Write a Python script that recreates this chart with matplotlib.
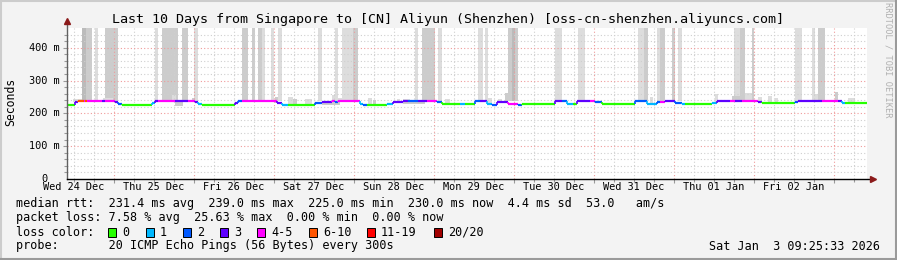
import matplotlib
matplotlib.use('Agg')
import matplotlib.pyplot as plt
from matplotlib.patches import Rectangle
from matplotlib.lines import Line2D

W, H = 897, 260
MONO = 'DejaVu Sans Mono'

# time axis: hours since Wed 24 Dec 00:00
view_start = 9.9
view_end = 249.9
day_labels = ['Wed 24 Dec', 'Thu 25 Dec', 'Fri 26 Dec', 'Sat 27 Dec', 'Sun 28 Dec',
              'Mon 29 Dec', 'Tue 30 Dec', 'Wed 31 Dec', 'Thu 01 Jan', 'Fri 02 Jan']

# median rtt: segment start (h), value (ms), lost pings out of 20
med_start = [9.9, 12.3, 13.2, 15.0, 15.3, 15.9, 20.4, 21.3, 22.8, 23.4, 24.3, 25.2, 26.4,
             35.4, 36.3, 37.2, 42.3, 46.2, 48.3, 49.2, 50.4, 60.3, 61.2, 62.4, 72.9, 74.4,
             76.2, 84.3, 86.4, 89.4, 90.3, 91.2, 97.8, 98.7, 99.9, 105.9, 107.7, 110.7,
             112.2, 115.2, 117.9, 120.9, 122.4, 127.8, 129.3, 132.3, 133.8, 135.9, 137.4,
             138.9, 142.2, 145.2, 146.4, 156.3, 158.4, 159.9, 161.7, 162.9, 164.7, 166.8,
             168.3, 170.4, 180.3, 183.9, 186.9, 187.8, 189.3, 192.3, 194.4, 195.3, 203.4,
             204.9, 208.8, 210.3, 212.4, 217.2, 218.4, 228.3, 229.2, 236.4, 241.2, 242.4,
             243.3]
med_value = [226, 234, 237, 237, 237, 237, 237, 237, 239, 237, 234, 228, 226,
             231, 239, 237, 237, 237, 234, 228, 226, 231, 237, 237, 231, 226,
             226, 231, 234, 237, 234, 237, 228, 225, 226, 228, 234, 237,
             237, 237, 239, 234, 228, 228, 228, 237, 237, 228, 226,
             234, 228, 226, 228, 237, 237, 228, 228, 237, 239, 239,
             234, 228, 237, 228, 234, 234, 237, 231, 228, 228, 231,
             237, 237, 237, 239, 234, 231, 234, 239, 239, 237, 231,
             231]
med_loss = [0, 3, 6, 4, 6, 4, 3, 4, 4, 4, 3, 2, 0,
            1, 3, 4, 3, 4, 3, 1, 0, 3, 2, 4, 3, 1,
            0, 2, 3, 4, 2, 4, 1, 2, 0, 1, 3, 3,
            2, 3, 4, 2, 0, 1, 0, 2, 3, 1, 2,
            3, 4, 2, 0, 3, 2, 1, 0, 3, 3, 4,
            2, 0, 2, 1, 2, 4, 3, 2, 1, 0, 1,
            3, 4, 3, 4, 3, 0, 2, 3, 4, 3, 1,
            0]

# smoke (rtt spread): start (h), end (h), low (ms), high (ms), density 1..3
smoke_start = [14.4, 15.6, 18.3, 21.3, 36.3, 38.4, 44.4, 48.0, 62.4, 65.4, 67.2, 68.4,
               71.1, 73.2, 85.2, 90.3, 92.4, 95.7, 114.3, 116.4, 121.2, 133.2, 135.3,
               142.2, 143.4, 144.3, 156.3, 163.2, 181.2, 183.0, 186.9, 187.8, 191.4,
               193.2, 210.0, 211.8, 215.4, 228.3, 233.4, 235.2,
               11.7, 20.7, 41.4, 47.4, 72.3, 76.2, 77.7, 81.3, 89.4, 91.2, 100.2, 101.7,
               108.9, 110.7, 123.3, 136.2, 139.2, 141.3, 184.8, 204.3, 209.4, 213.3,
               217.2, 220.2, 222.3, 233.4, 240.3, 244.2, 42.3, 86.4, 110.7]
smoke_end = [15.6, 17.4, 19.2, 25.2, 37.2, 43.2, 46.2, 49.2, 64.2, 66.3, 68.4, 69.3,
             72.0, 74.4, 86.4, 91.2, 95.7, 97.2, 115.2, 120.3, 122.4, 134.7, 136.2,
             143.4, 144.3, 145.2, 158.4, 165.3, 183.0, 184.2, 187.8, 189.3, 192.3,
             194.4, 211.8, 213.3, 216.0, 230.4, 234.3, 237.3,
             14.4, 23.7, 42.6, 48.3, 73.2, 77.7, 78.9, 83.4, 90.3, 92.4, 101.4, 102.6,
             109.8, 112.8, 124.8, 137.4, 140.4, 142.2, 185.7, 205.2, 212.4, 215.4,
             218.4, 221.4, 223.2, 235.2, 241.2, 246.3, 44.7, 91.8, 117.3]
smoke_low = [238] * 40 + [236, 237, 237, 234, 231, 226, 226, 226, 234, 237, 226, 226,
                          234, 234, 228, 228, 234, 234, 228, 231, 237, 239,
                          234, 231, 231, 239, 237, 231, 222, 224, 227]
smoke_high = [520] * 40 + [243, 246, 255, 246, 249, 249, 243, 243, 255, 246, 246, 240,
                           243, 243, 243, 246, 243, 261, 249, 258, 252, 261,
                           249, 252, 246, 258, 264, 246, 237, 234, 237]
smoke_level = [3, 2, 1, 2, 1, 2, 2, 1, 2, 2, 2, 1,
               1, 1, 1, 1, 1, 2, 1, 2, 1, 1, 1,
               2, 3, 2, 1, 1, 1, 2, 1, 2, 2,
               1, 1, 2, 2, 1, 1, 2,
               1, 1, 1, 2, 2, 1, 2, 1, 1, 1, 1, 2,
               1, 1, 1, 1, 1, 2, 1, 1, 2, 1,
               1, 1, 1, 1, 2, 1, 2, 2, 2]

loss_labels = ['0', '1', '2', '3', '4-5', '6-10', '11-19', '20/20']
loss_upper = [0, 1, 2, 3, 5, 10, 19, 20]
loss_colors = ['#26ff00', '#00b8ff', '#0059ff', '#5e00ff', '#ff00ff', '#ff5500',
               '#ff0000', '#a10000']
smoke_colors = {1: '#dddddd', 2: '#cccccc', 3: '#bbbbbb'}

stats_rtt = 'median rtt:  231.4 ms avg  239.0 ms max  225.0 ms min  230.0 ms now  4.4 ms sd  53.0   am/s'
stats_loss = 'packet loss: 7.58 % avg  25.63 % max  0.00 % min  0.00 % now'
probe_text = 'probe:       20 ICMP Echo Pings (56 Bytes) every 300s'
stamp = 'Sat Jan  3 09:25:33 2026'
title = 'Last 10 Days from Singapore to [CN] Aliyun (Shenzhen) [oss-cn-shenzhen.aliyuncs.com]'


def fx(x):
    return x / W


def fy(y):
    return 1 - y / H


def loss_color(n):
    for up, c in zip(loss_upper, loss_colors):
        if n <= up:
            return c
    return loss_colors[-1]


fig = plt.figure(figsize=(W / 100, H / 100), dpi=100, facecolor='#f3f3f3')
ax = fig.add_axes([fx(67), fy(179), 800 / W, 151 / H])
ax.set_facecolor('white')
ax.set_xlim(view_start, view_end)
ax.set_ylim(0, 460)

# smoke
for s, e, lo, hi, lv in zip(smoke_start, smoke_end, smoke_low, smoke_high, smoke_level):
    ax.bar(s, hi - lo, width=e - s, bottom=lo, align='edge',
           color=smoke_colors[lv], linewidth=0, zorder=1)

# median line coloured by loss
ends = med_start[1:] + [view_end]
for i, (s, e, v, n) in enumerate(zip(med_start, ends, med_value, med_loss)):
    c = loss_color(n)
    ax.hlines(v, s, e, colors=c, linewidth=1.6, zorder=4)
    if i > 0 and med_value[i - 1] != v:
        ax.vlines(s, med_value[i - 1], v, colors=c, linewidth=1.2, zorder=4)

# grid
midnights = [24 * k for k in range(1, 11)]
ax.set_xticks(midnights)
ax.set_xticks([6 * k for k in range(2, 42)], minor=True)
ax.set_yticks([100, 200, 300, 400])
ax.set_yticks([20 * k for k in range(1, 23)], minor=True)
ax.grid(which='minor', color='#cfcfcf', linestyle=(0, (1, 2)), linewidth=0.8)
ax.grid(which='major', color='#f09a9a', linestyle=(0, (1, 2)), linewidth=0.8)
ax.set_axisbelow(False)
ax.tick_params(which='both', labelbottom=False, labelleft=False, direction='out',
               color='#999999', width=0.8)
ax.tick_params(which='major', length=3)
ax.tick_params(which='minor', length=2)
for sp in ax.spines.values():
    sp.set_visible(False)

# axes with arrows
ax.add_line(Line2D([0, 0], [0, 1.045], transform=ax.transAxes, color='#606060',
                   linewidth=1, clip_on=False, zorder=6))
ax.add_line(Line2D([0, 1.005], [0, 0], transform=ax.transAxes, color='black',
                   linewidth=1, clip_on=False, zorder=6))
ax.plot([0], [1.045], marker='^', color='#8b1a1a', markersize=5, transform=ax.transAxes,
        clip_on=False, zorder=7)
ax.plot([1.007], [0], marker='>', color='#8b1a1a', markersize=5, transform=ax.transAxes,
        clip_on=False, zorder=7)

# tick labels
for k, lab in enumerate(day_labels):
    ax.text(12 + 24 * k, -8.5 / 151, lab, transform=ax.get_xaxis_transform(),
            ha='center', va='center', family=MONO, fontsize=7.4)
ytr = ax.get_yaxis_transform()
for v in [100, 200, 300, 400]:
    ax.text(-7 / 800, v, '%d m' % v, transform=ytr, ha='right', va='center',
            family=MONO, fontsize=7.4)
ax.text(-19 / 800, 0, '0', transform=ytr, ha='right', va='center', family=MONO,
        fontsize=7.4)

fig.text(fx(11), fy(102), 'Seconds', rotation=90, ha='center', va='center',
         family=MONO, fontsize=8.3)
fig.text(fx(448), fy(19), title, ha='center', va='center', family=MONO, fontsize=9.6)
fig.text(fx(888), fy(60), 'RRDTOOL / TOBI OETIKER', rotation=270, ha='center',
         va='center', family=MONO, fontsize=6.2, color='#b0b0b0')

# legend / stats
fig.text(fx(16), fy(204), stats_rtt, va='center', family=MONO, fontsize=8.5)
fig.text(fx(16), fy(218), stats_loss, va='center', family=MONO, fontsize=8.5)
fig.text(fx(16), fy(232), 'loss color:', va='center', family=MONO, fontsize=8.5)
box_x = [108, 146, 183, 220, 257, 309, 367, 434]
for bx, lab, c in zip(box_x, loss_labels, loss_colors):
    fig.add_artist(Rectangle((fx(bx), fy(236.5)), 8 / W, 9 / H, transform=fig.transFigure,
                             facecolor=c, edgecolor='black', linewidth=0.7))
    fig.text(fx(bx + 14), fy(232), lab, va='center', family=MONO, fontsize=8.5)
fig.text(fx(16), fy(246), probe_text, va='center', family=MONO, fontsize=8.5)
fig.text(fx(880), fy(246), stamp, ha='right', va='center', family=MONO, fontsize=8.5)

# frame
fig.add_artist(Line2D([0, 1], [fy(1), fy(1)], transform=fig.transFigure, color='#cccccc', linewidth=1.5))
fig.add_artist(Line2D([fx(1), fx(1)], [0, 1], transform=fig.transFigure, color='#cccccc', linewidth=1.5))
fig.add_artist(Line2D([0, 1], [fy(259), fy(259)], transform=fig.transFigure, color='#9a9a9a', linewidth=1.5))
fig.add_artist(Line2D([fx(896), fx(896)], [0, 1], transform=fig.transFigure, color='#9a9a9a', linewidth=1.5))

fig.savefig('out.png', dpi=100, facecolor=fig.get_facecolor())
